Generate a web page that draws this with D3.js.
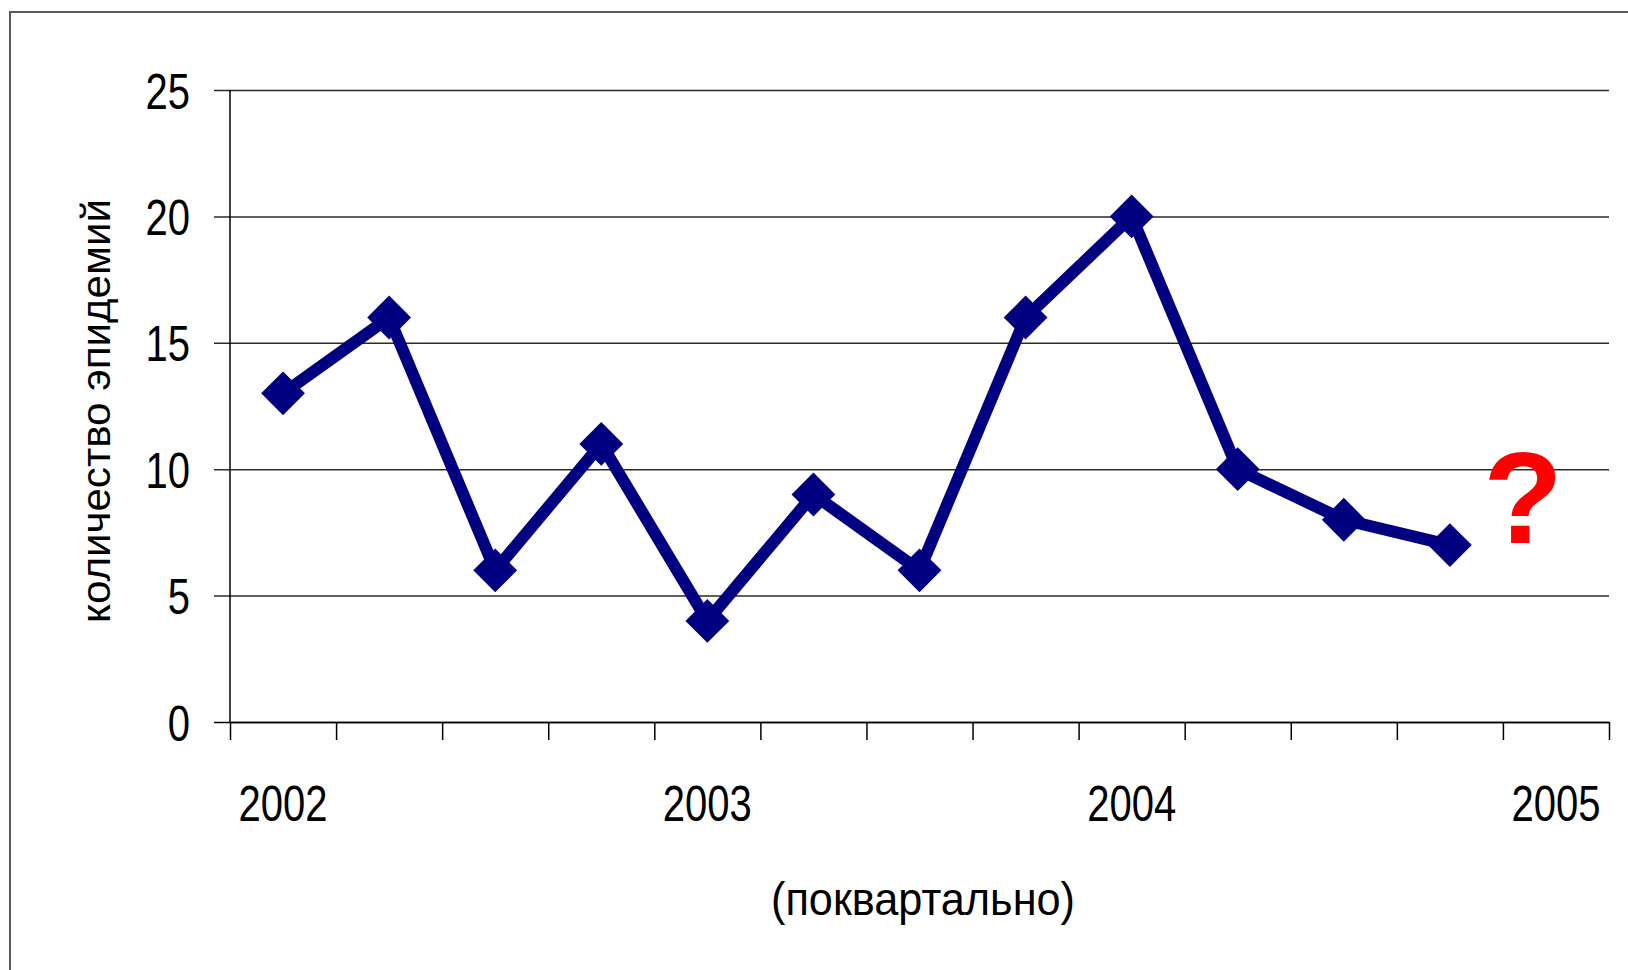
<!DOCTYPE html>
<html>
<head>
<meta charset="utf-8">
<script src="https://cdn.jsdelivr.net/npm/d3@7"></script>
<style>
  html, body { margin: 0; padding: 0; background: #fff; }
  svg { display: block; font-family: "Liberation Sans", Arial, sans-serif; }
</style>
</head>
<body>
<svg id="chart" width="1628" height="970"></svg>
<script>
// Quarterly categories, 2002 Q1 .. 2005 Q1
const quarters = [
  "2002-I", "2002-II", "2002-III", "2002-IV",
  "2003-I", "2003-II", "2003-III", "2003-IV",
  "2004-I", "2004-II", "2004-III", "2004-IV",
  "2005-I"
];
// Labels shown under the axis (one per year)
const yearLabels = ["2002", "", "", "", "2003", "", "", "", "2004", "", "", "", "2005"];
// Number of epidemics per quarter (2005-I not yet known)
const epidemics = [13, 16, 6, 11, 4, 9, 6, 16, 20, 10, 8, 7];
const yTicks = [0, 5, 10, 15, 20, 25];

const yTitle = "количество эпидемий";
const xTitle = "(поквартально)";
const unknownMark = "?";

const svg = d3.select("#chart");
const W = 1628, H = 970;
const plot = { left: 230, right: 1609, top: 90, bottom: 722 };

svg.append("rect").attr("width", W).attr("height", H).attr("fill", "#fff");

// Frame of the slide area (continues past the right and bottom edges)
svg.append("path")
  .attr("d", `M10,${H} L10,12 L${W},12`)
  .attr("fill", "none")
  .attr("stroke", "#5a5a5a")
  .attr("stroke-width", 2);

const x = d3.scaleBand().domain(quarters).range([plot.left, plot.right]).padding(0);
const xEdge = d3.scaleLinear().domain([0, quarters.length]).range([plot.left, plot.right]);
const y = d3.scaleLinear().domain([0, 25]).range([plot.bottom, plot.top]);

const narrow = 0.8;

// Y axis: gridlines with short outside ticks and condensed labels
const yAxis = svg.append("g")
  .attr("transform", `translate(${plot.left},0)`)
  .call(d3.axisLeft(y).tickValues(yTicks).tickSize(-(plot.right - plot.left)).tickFormat(d3.format("d")));
yAxis.select(".domain").remove();
yAxis.selectAll(".tick line")
  .attr("x1", -16)
  .attr("stroke", (d) => d === 0 ? "#000" : "#2a2a2a")
  .attr("stroke-width", 1.5);
yAxis.selectAll(".tick text")
  .attr("x", 0).attr("dy", 0)
  .attr("transform", `translate(-40,18) scale(${narrow},1)`)
  .attr("text-anchor", "end")
  .attr("font-size", 50)
  .attr("fill", "#000");

// Vertical axis line
svg.append("line")
  .attr("x1", plot.left).attr("x2", plot.left)
  .attr("y1", y(25)).attr("y2", y(0))
  .attr("stroke", "#000").attr("stroke-width", 1.5);

// X axis: tick marks on the quarter boundaries
const xEdgeAxis = svg.append("g")
  .attr("transform", `translate(0,${plot.bottom})`)
  .call(d3.axisBottom(xEdge).tickValues(d3.range(quarters.length + 1)).tickSize(18).tickSizeOuter(0).tickFormat(""));
xEdgeAxis.select(".domain").attr("stroke", "#000").attr("stroke-width", 1.5);
xEdgeAxis.selectAll(".tick line").attr("stroke", "#000").attr("stroke-width", 1.5);

// X axis: year labels centred under their first quarter
const xLabelAxis = svg.append("g")
  .attr("transform", `translate(0,${plot.bottom})`)
  .call(d3.axisBottom(x).tickSize(0).tickFormat((d, i) => yearLabels[i]));
xLabelAxis.select(".domain").remove();
xLabelAxis.selectAll(".tick text")
  .attr("y", 0).attr("dy", 0)
  .attr("transform", `translate(0,99) scale(${narrow},1)`)
  .attr("font-size", 50)
  .attr("fill", "#000");

// Axis titles
svg.append("text")
  .attr("transform", "translate(110,411) rotate(-90)")
  .attr("text-anchor", "middle")
  .attr("font-size", 40)
  .attr("textLength", 424)
  .attr("lengthAdjust", "spacingAndGlyphs")
  .attr("fill", "#000")
  .text(yTitle);

svg.append("text")
  .attr("x", 923).attr("y", 915)
  .attr("text-anchor", "middle")
  .attr("font-size", 46)
  .attr("textLength", 304)
  .attr("lengthAdjust", "spacingAndGlyphs")
  .attr("fill", "#000")
  .text(xTitle);

// Series line and diamond markers
const cx = (d, i) => x(quarters[i]) + x.bandwidth() / 2;
const navy = "#000080";

svg.append("path")
  .datum(epidemics)
  .attr("fill", "none")
  .attr("stroke", navy)
  .attr("stroke-width", 12)
  .attr("stroke-linejoin", "round")
  .attr("d", d3.line().x(cx).y((d) => y(d)));

svg.append("g").selectAll("path")
  .data(epidemics)
  .join("path")
  .attr("d", d3.symbol(d3.symbolSquare, 960))
  .attr("transform", (d, i) => `translate(${cx(d, i)},${y(d)}) rotate(45)`)
  .attr("fill", navy);

// Unknown value for the next quarter
svg.append("text")
  .attr("x", x(quarters[12]) + x.bandwidth() / 2 - 33)
  .attr("y", 543)
  .attr("text-anchor", "middle")
  .attr("font-size", 130)
  .attr("font-weight", "bold")
  .attr("fill", "#ff0000")
  .text(unknownMark);
</script>
</body>
</html>
